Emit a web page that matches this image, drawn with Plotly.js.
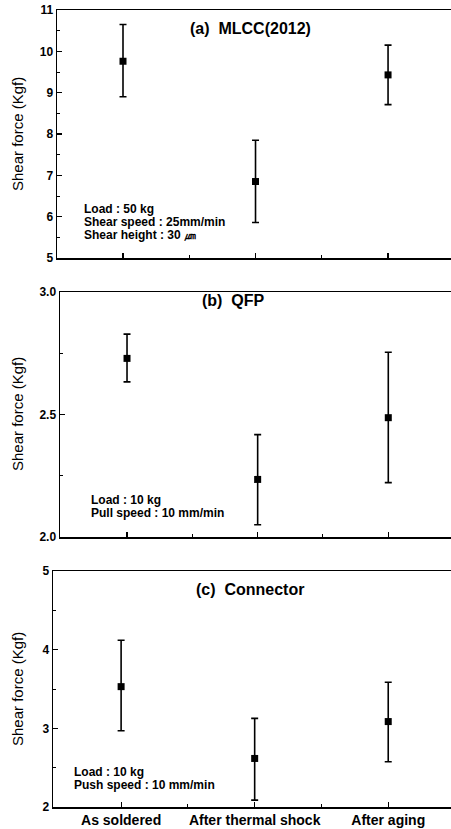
<!DOCTYPE html>
<html><head><meta charset="utf-8">
<script src="https://cdn.plot.ly/plotly-3.0.1.min.js"></script>
<style>html,body{margin:0;padding:0;background:#fff}#chart{width:451px;height:829px}</style>
</head><body><div id="chart"></div>
<script>
const categories = ["As soldered", "After thermal shock", "After aging"];
const xIndex = [0, 1, 2];

const mlccMean = [9.76, 6.85, 9.43];
const mlccPlus = [0.89, 1.00, 0.72];
const mlccMinus = [0.86, 0.99, 0.72];

const qfpMean = [2.729, 2.235, 2.487];
const qfpPlus = [0.099, 0.183, 0.267];
const qfpMinus = [0.096, 0.185, 0.265];

const connMean = [3.53, 2.617, 3.086];
const connPlus = [0.59, 0.51, 0.50];
const connMinus = [0.56, 0.53, 0.51];

const panelTitles = ["(a)  MLCC(2012)", "(b)  QFP", "(c)  Connector"];
const notesA = ["Load : 50 kg", "Shear speed : 25mm/min", "Shear height : 30 \u339B"];
const notesB = ["Load : 10 kg", "Pull speed : 10 mm/min"];
const notesC = ["Load : 10 kg", "Push speed : 10 mm/min"];
const yTitle = "Shear force (Kgf)";

const FONT = "Liberation Sans, Arial, Helvetica, sans-serif";

function trace(mean, plus, minus, xa, ya) {
  return {
    x: xIndex, y: mean, xaxis: xa, yaxis: ya, type: 'scatter', mode: 'markers',
    marker: {symbol: 'square', size: 7, color: '#000'},
    error_y: {type: 'data', symmetric: false, array: plus, arrayminus: minus,
              color: '#000', thickness: 1.6, width: 3.5},
    showlegend: false, hoverinfo: 'skip'
  };
}

const data = [
  trace(mlccMean, mlccPlus, mlccMinus, 'x', 'y'),
  trace(qfpMean, qfpPlus, qfpMinus, 'x2', 'y2'),
  trace(connMean, connPlus, connMinus, 'x3', 'y3')
];

function xax(domain, range, anchor, showLabels) {
  return {
    domain: domain, range: range, anchor: anchor,
    tickmode: 'array', tickvals: xIndex, ticktext: showLabels ? categories : ["", "", ""],
    ticks: 'inside', ticklen: 5, tickwidth: 1.2, tickcolor: '#000',
    minor: {tickmode: 'array', tickvals: [0.5, 1.5], ticks: 'inside', ticklen: 3, tickwidth: 1, tickcolor: '#000'},
    showline: true, linecolor: '#000', linewidth: 1.5, mirror: true,
    showgrid: false, zeroline: false, automargin: false,
    tickfont: {family: FONT, size: 14, color: '#000', weight: 'bold'}
  };
}
function yax(domain, range, dtick, minorDtick, fmt, anchor) {
  return {
    domain: domain, range: range, anchor: anchor,
    tickmode: 'linear', tick0: range[0], dtick: dtick, tickformat: fmt,
    ticks: 'inside', ticklen: 5, tickwidth: 1.2, tickcolor: '#000',
    minor: {dtick: minorDtick, tick0: range[0], ticks: 'inside', ticklen: 3, tickwidth: 1, tickcolor: '#000'},
    showline: true, linecolor: '#000', linewidth: 1.5, mirror: false,
    showgrid: false, zeroline: false, automargin: false,
    tickfont: {family: FONT, size: 12, color: '#000', weight: 'bold'}
  };
}

const H = 829, W = 451;
function py(p) { return 1 - p / H; }

const annotations = [];
function addTitle(text, x, y) {
  annotations.push({text: text, xref: 'paper', yref: 'paper', x: x / W, y: py(y),
    xanchor: 'center', yanchor: 'middle', showarrow: false,
    font: {family: FONT, size: 16, color: '#000', weight: 'bold'}});
}
addTitle(panelTitles[0], 250, 28);
addTitle(panelTitles[1], 234, 300);
addTitle(panelTitles[2], 250, 589);

function addYTitle(y) {
  annotations.push({text: yTitle, xref: 'paper', yref: 'paper', x: 17 / W, y: py(y),
    xanchor: 'center', yanchor: 'middle', textangle: -90, showarrow: false,
    font: {family: FONT, size: 15, color: '#000'}});
}
addYTitle(134);
addYTitle(414);
addYTitle(689);

function addNotes(lines, x, y0, step) {
  lines.forEach((t, i) => annotations.push({text: t, xref: 'paper', yref: 'paper',
    x: x / W, y: py(y0 + i * step), xanchor: 'left', yanchor: 'middle', showarrow: false,
    font: {family: FONT, size: 12, color: '#000', weight: 'bold'}}));
}
addNotes(notesA, 82, 209, 13);
addNotes(notesB, 89, 500, 13);
addNotes(notesC, 72, 772, 12.5);

const layout = {
  width: W, height: H,
  margin: {l: 0, r: 0, t: 0, b: 0},
  paper_bgcolor: '#fff', plot_bgcolor: '#fff',
  showlegend: false,
  xaxis: xax([57 / W, 1], [-0.498, 2.475], 'y', false),
  yaxis: yax([py(258), py(10)], [5, 11], 1, 0.5, 'd', 'x'),
  xaxis2: xax([60 / W, 1], [-0.513, 2.48], 'y2', false),
  yaxis2: yax([py(537), py(292)], [2.0, 3.0], 0.5, 0.25, '.1f', 'x2'),
  xaxis3: xax([53 / W, 1], [-0.51, 2.47], 'y3', true),
  yaxis3: yax([py(807), py(571)], [2, 5], 1, 0.5, 'd', 'x3'),
  annotations: annotations
};

Plotly.newPlot('chart', data, layout, {displayModeBar: false, staticPlot: true});
</script>
</body></html>
